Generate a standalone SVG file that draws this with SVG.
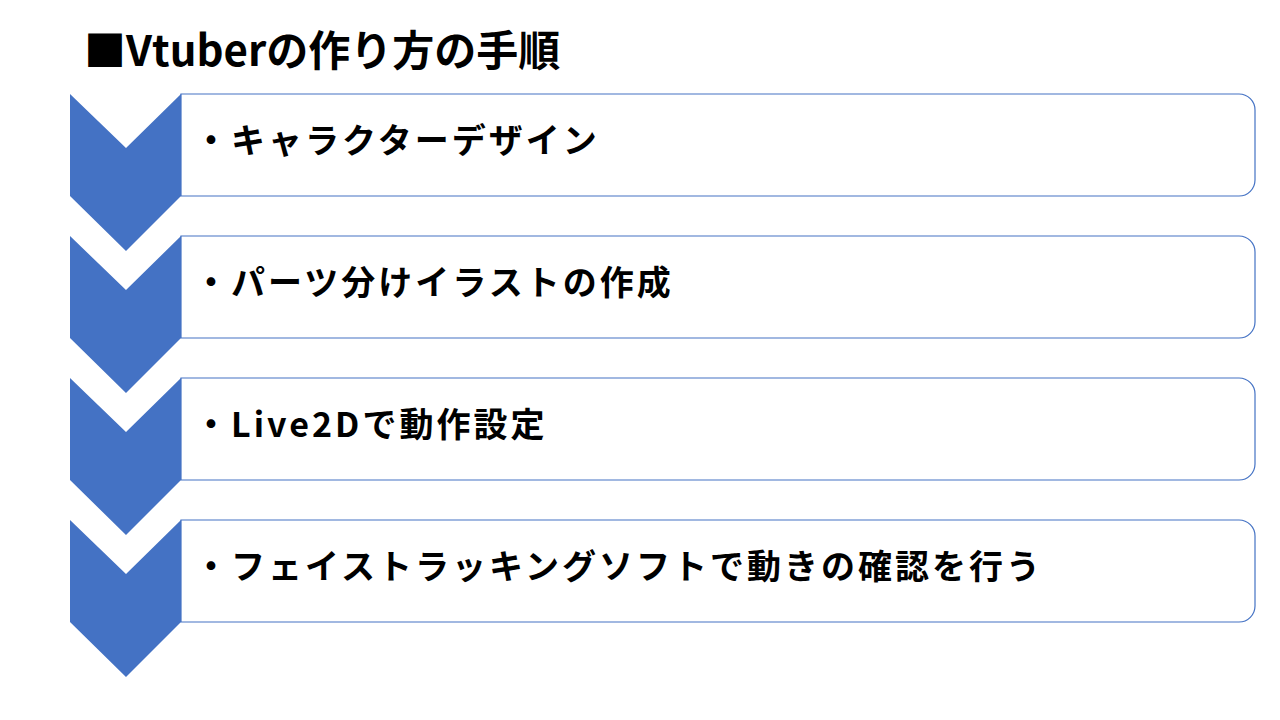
<svg xmlns="http://www.w3.org/2000/svg" width="1280" height="720" viewBox="0 0 1280 720">
<style>
.chev{fill:#4472C4}
.box{fill:#FFFFFF;stroke:#4472C4;stroke-width:1.2}
.t{font-family:"Noto Sans CJK JP","Noto Sans",sans-serif;font-weight:bold;font-size:34px;fill:#000}
.title{font-family:"Noto Sans CJK JP","Noto Sans",sans-serif;font-weight:bold;font-size:42px;fill:#000}
</style>
<defs>
<path id="chevShape" d="M70,0 L126,54 L181,0 L181,102 L126,157 L70,102 Z"/>
<path id="boxShape" d="M181,0 L1239,0 A16,16 0 0 1 1255,16 L1255,86 A16,16 0 0 1 1239,102 L181,102 Z"/>
</defs>
<rect width="1280" height="720" fill="#FFFFFF"/>
<text class="title" x="84" y="66">■Vtuberの作り方の手順</text>
<g id="step1" transform="translate(0,94)">
<use href="#chevShape" class="chev"/>
<use href="#boxShape" class="box"/>
<text class="t" x="194" y="59" letter-spacing="3">・キャラクターデザイン</text>
</g>
<g id="step2" transform="translate(0,236)">
<use href="#chevShape" class="chev"/>
<use href="#boxShape" class="box"/>
<text class="t" x="194" y="59" letter-spacing="3">・パーツ分けイラストの作成</text>
</g>
<g id="step3" transform="translate(0,378)">
<use href="#chevShape" class="chev"/>
<use href="#boxShape" class="box"/>
<text class="t" x="194" y="59" letter-spacing="3">・Live2Dで動作設定</text>
</g>
<g id="step4" transform="translate(0,520)">
<use href="#chevShape" class="chev"/>
<use href="#boxShape" class="box"/>
<text class="t" x="194" y="59" letter-spacing="3">・フェイストラッキングソフトで動きの確認を行う</text>
</g>
<g id="connectors"/>
</svg>
